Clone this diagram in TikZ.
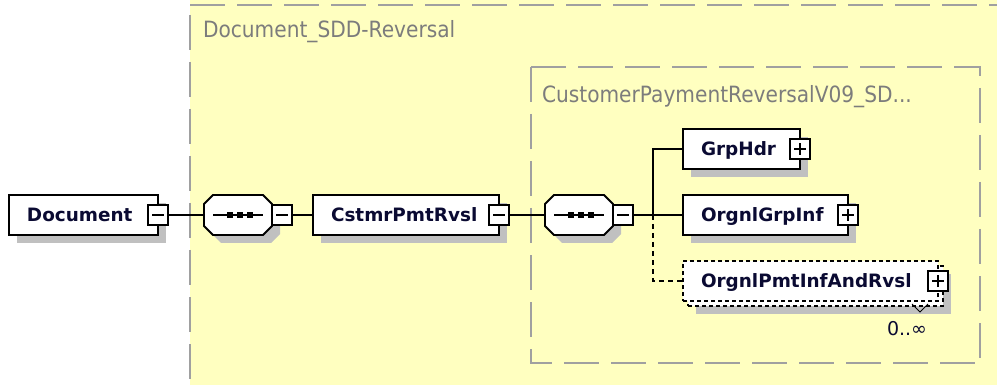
\documentclass[tikz,border=0pt]{standalone}
\usepackage{fontspec}
\setmainfont{DejaVu Sans}
\newfontfamily\grayfont[FakeStretch=0.9]{DejaVu Sans}
\usetikzlibrary{shadows}
\definecolor{bgyellow}{HTML}{FFFFC0}
\definecolor{framegray}{HTML}{A0A0A0}
\definecolor{shadowc}{HTML}{C0C0C0}
\definecolor{labelgray}{HTML}{7C7C7C}
\definecolor{ink}{HTML}{0A0A32}
% #1 node name, #2 offset
\newcommand\octpath[2]{([shift={#2},xshift=9pt]#1.north west) -- ([shift={#2},xshift=-9pt]#1.north east) -- ([shift={#2},yshift=-9pt]#1.north east) -- ([shift={#2},yshift=9pt]#1.south east) -- ([shift={#2},xshift=-9pt]#1.south east) -- ([shift={#2},xshift=9pt]#1.south west) -- ([shift={#2},yshift=9pt]#1.south west) -- ([shift={#2},yshift=-9pt]#1.north west) -- cycle}
\newcommand\drawseqshape[1]{%
  \fill[shadowc] \octpath{#1}{(8,8)};
  \filldraw[fill=white, draw=black, line width=1.8pt, line join=miter] \octpath{#1}{(0,0)};
  \draw[line width=1.6pt] (#1.center) +(-25,0) -- +(25,0);
  \fill (#1.center) ++(-11,-3) rectangle ++(6,6);
  \fill (#1.center) ++(-1,-3) rectangle ++(6,6);
  \fill (#1.center) ++(9,-3) rectangle ++(6,6);
}
\begin{document}
\begin{tikzpicture}[x=1pt,y=-1pt, outer sep=0pt,
  shadowed/.style={drop shadow={shadow xshift=8pt, shadow yshift=-8pt, fill=shadowc, opacity=1}},
  elembase/.style={draw=black, line width=1.8pt, fill=white, minimum height=40pt,
    inner ysep=0pt, inner xsep=18pt, outer sep=0pt, anchor=north west, align=left,
    text height=13.4pt, text depth=0pt,
    font=\fontsize{18.4}{20}\selectfont\bfseries, text=ink},
  elem/.style={elembase, shadowed},
  optbox/.style={elembase, line width=1.4pt, dash pattern=on 4pt off 3pt},
  seqbox/.style={rectangle, minimum width=68pt, minimum height=40pt, inner sep=0pt, outer sep=0pt, anchor=west},
  btn/.style={draw=black, line width=1.5pt, fill=white, minimum size=20pt, inner sep=0pt, outer sep=0pt},
  btnminus/.style={btn, path picture={
      \draw[line width=1.5pt] ([xshift=-6pt]path picture bounding box.center) -- ([xshift=6pt]path picture bounding box.center);}},
  btnplus/.style={btn, path picture={
      \draw[line width=1.5pt] ([xshift=-6pt]path picture bounding box.center) -- ([xshift=6pt]path picture bounding box.center);
      \draw[line width=1.5pt] ([yshift=-6pt]path picture bounding box.center) -- ([yshift=6pt]path picture bounding box.center);}},
  conn/.style={draw=black, line width=1.7pt},
  optconn/.style={conn, dash pattern=on 5pt off 4pt},
  framestyle/.style={draw=framegray, line width=2.3pt, dash pattern=on 35pt off 12pt},
  grouplabel/.style={anchor=base west, inner sep=0pt, text=labelgray, font=\grayfont\fontsize{22.4}{24}\selectfont}
]
\useasboundingbox (0,0) rectangle (997,385);
\clip (0,0) rectangle (997,385);
\fill[white] (0,0) rectangle (997,385);
\fill[bgyellow] (190,0) rectangle (997,385);

% group frames
\draw[framestyle] (190,5) -- (1010,5);
\draw[framestyle, dash phase=37pt] (190,5) -- (190,400);
\draw[framestyle] (531,67) -- (980,67) -- (980,363);
\draw[framestyle] (531,67) -- (531,363) -- (980,363);
\node[grouplabel] (lbl1) at (203,38) {Document\_SDD-Reversal};
\node[grouplabel] (lbl2) at (542,103) {CustomerPaymentReversalV09\_SD...};

% element boxes
\node[elem, text width=113pt] (doc) at (9,195) {Document};
\node[seqbox] (s1) at (204,215) {};
\node[elem, text width=150pt] (cpr) at (313,195) {CstmrPmtRvsl};
\node[seqbox] (s2) at (545,215) {};
\node[elem, text width=81pt] (gh) at (683,129) {GrpHdr};
\node[elem, text width=129pt] (og) at (683,195) {OrgnlGrpInf};
\node[optbox, shadowed, minimum width=255pt] (opback) at (688,266) {};
\node[optbox, text width=219pt] (op) at (683,261) {OrgnlPmtInfAndRvsl};

% sequence compositors
\drawseqshape{s1}
\drawseqshape{s2}

% buttons
\node[btnminus] (doc-b) at (doc.east) {};
\node[btnminus] (s1-b) at ([xshift=10pt]s1.east) {};
\node[btnminus] (cpr-b) at (cpr.east) {};
\node[btnminus] (s2-b) at ([xshift=10pt]s2.east) {};
\node[btnplus] (gh-b) at (gh.east) {};
\node[btnplus] (og-b) at (og.east) {};
\node[btnplus] (op-b) at (op.east) {};

% repetition mark and cardinality
\draw[line width=1pt] ([shift={(-31,-2)}]opback.south east) -- ++(8,8) -- ++(8,-8);
\node[inner sep=0pt, text=ink, font=\fontsize{19}{20}\selectfont] (card) at (907,329) {0..∞};

% connectors
\coordinate (j) at (653,215);
\draw[conn] (doc-b.east) -- (s1.west);
\draw[conn] (s1-b.east) -- (cpr.west);
\draw[conn] (cpr-b.east) -- (s2.west);
\draw[conn] (s2-b.east) -- (og.west);
\draw[conn] (gh.west) -| (j);
\draw[optconn] (j) |- (op.west);
\end{tikzpicture}
\end{document}
